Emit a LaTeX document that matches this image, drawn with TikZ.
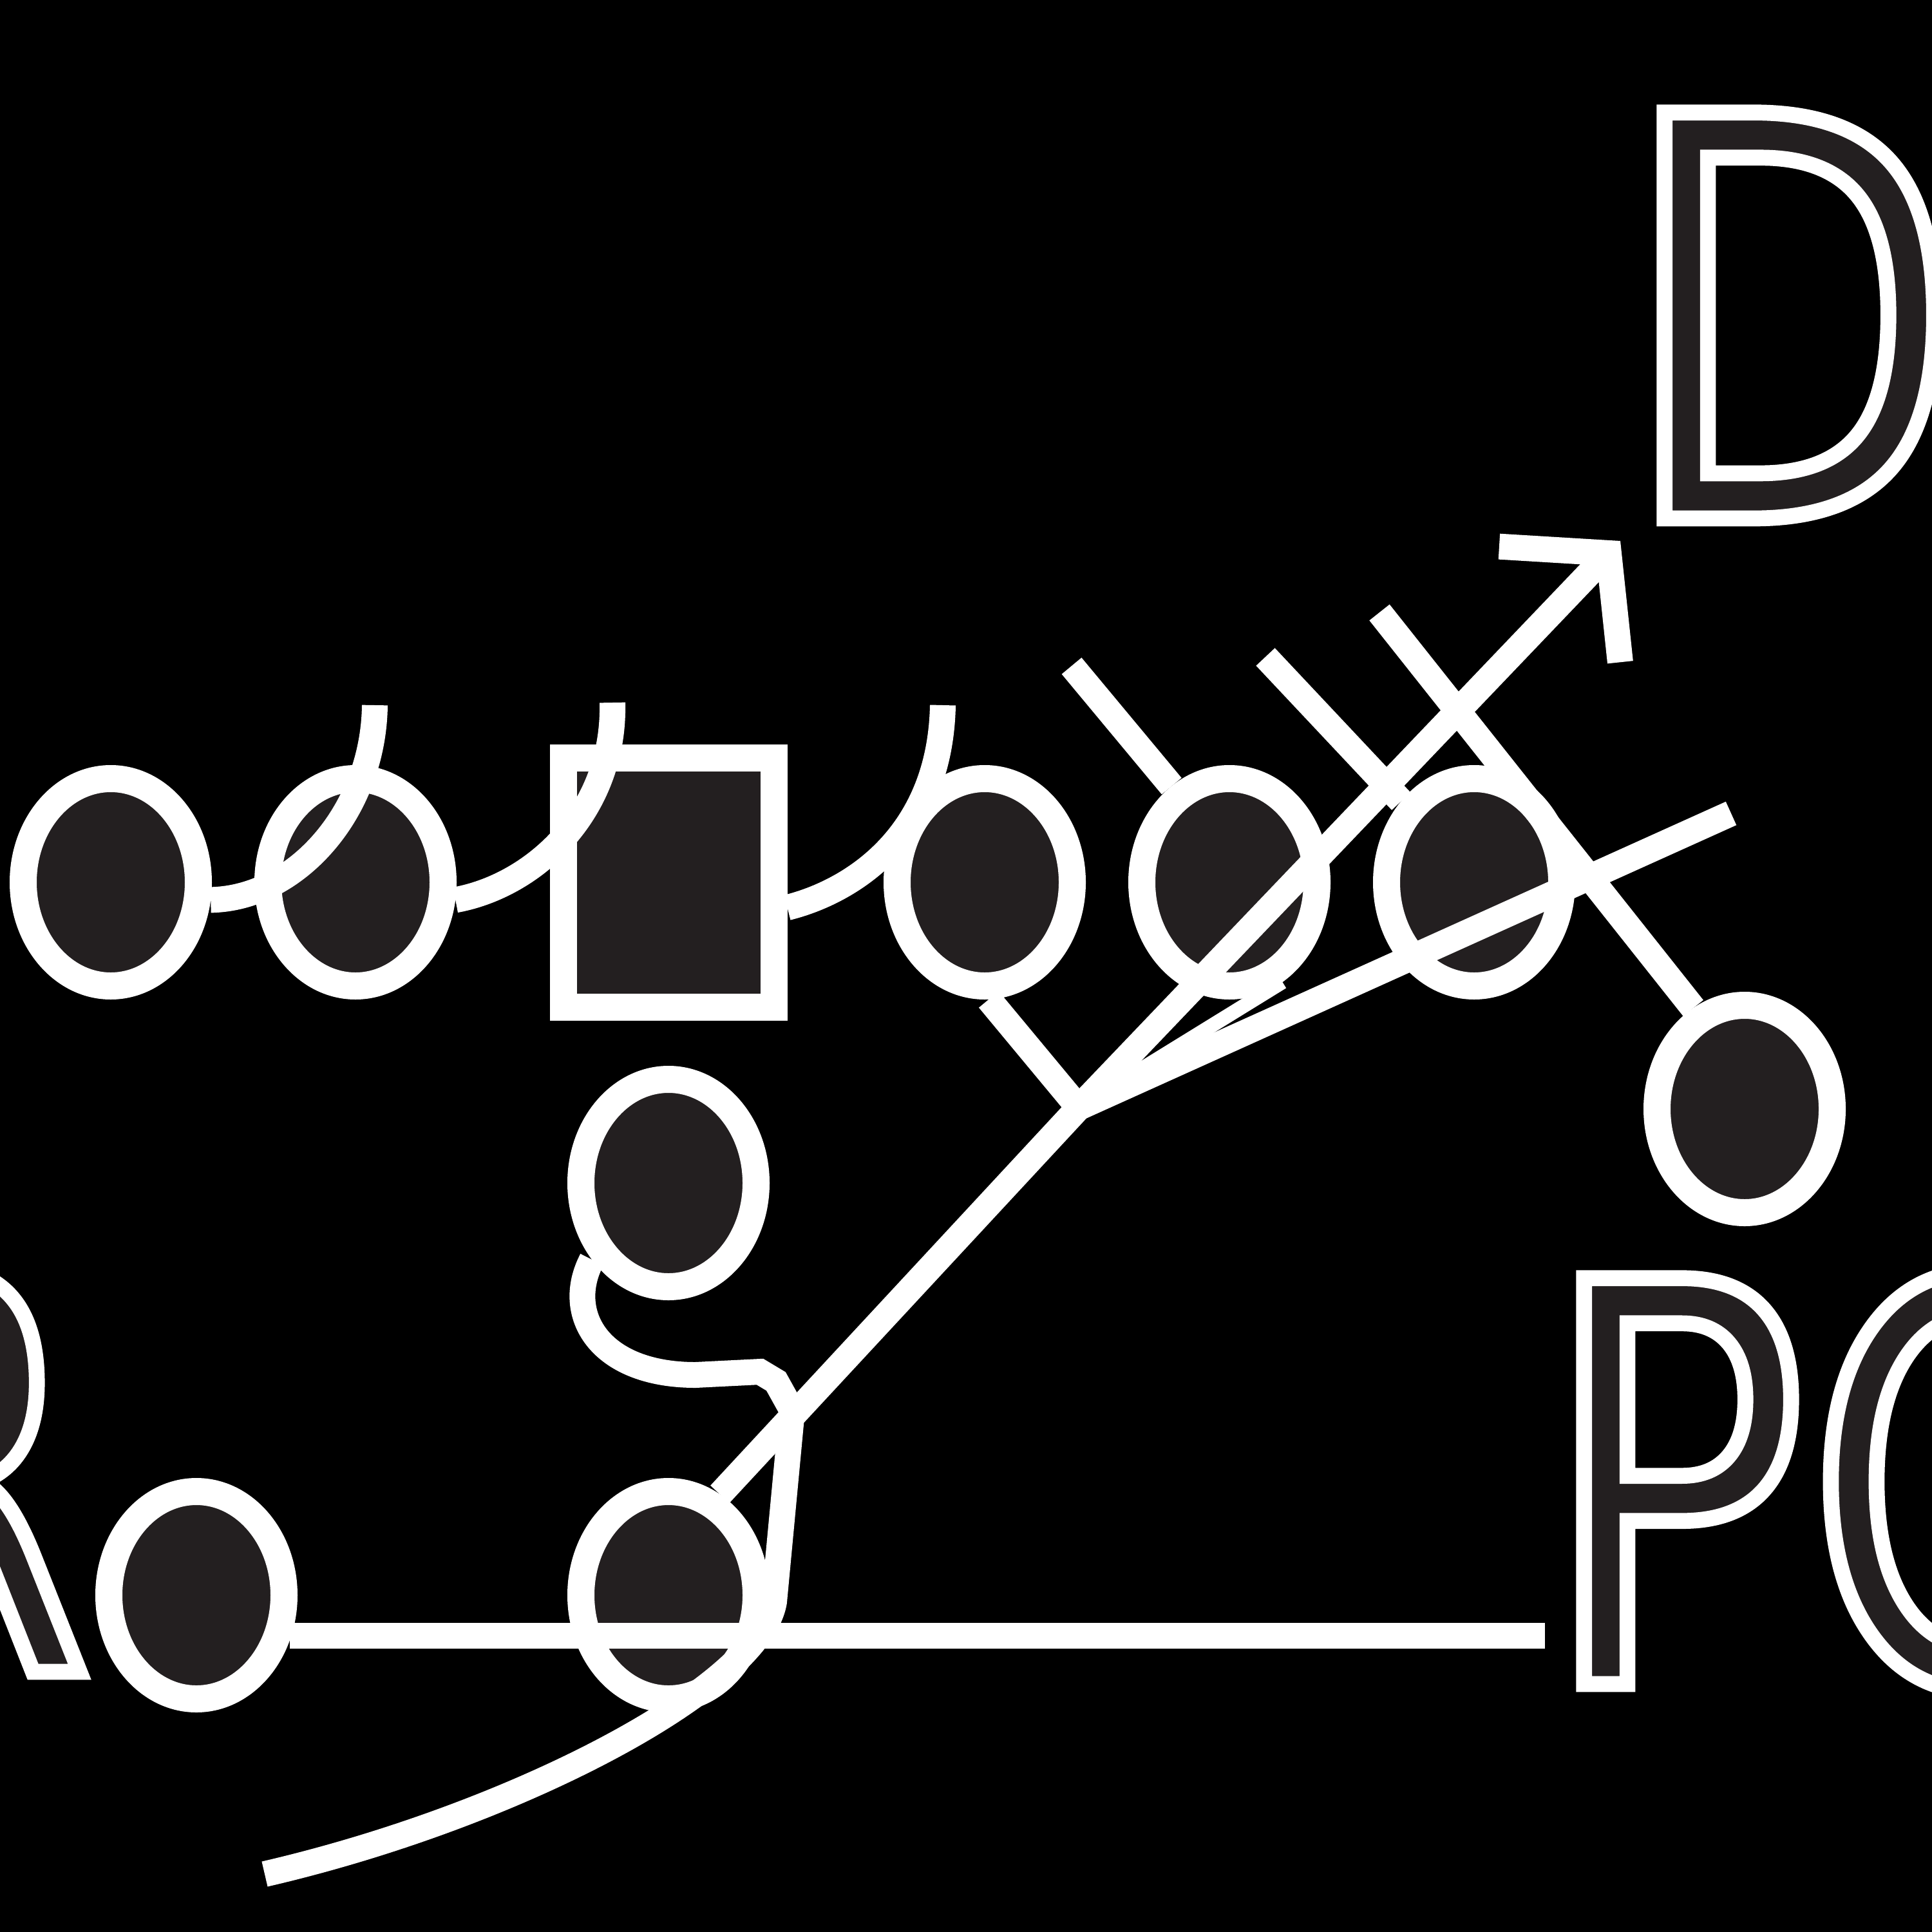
\documentclass[tikz,border=0pt]{standalone}
\usepackage{fontspec}
\usepackage{xcolor}
\usepackage{tikz}
\usetikzlibrary{shapes.geometric, arrows.meta, positioning}
\newfontfamily\playfont[FakeStretch=0.79]{DejaVu Sans}
\definecolor{playerfill}{HTML}{231F20}
% white outlined letters: fill with text colour, stroke in white
\newcommand\hollow[1]{\special{pdf:literal direct 2 Tr 7 w 1 1 1 RG}#1\special{pdf:literal direct 0 Tr}}
\tikzstyle{player} = [ellipse, minimum width=2.72cm, minimum height=3.22cm, inner sep=0pt, draw=white, line width=0.42cm, fill=playerfill]
\tikzstyle{snapper} = [rectangle, minimum width=3.27cm, minimum height=3.87cm, inner sep=0pt, draw=white, line width=0.42cm, fill=playerfill]
\tikzstyle{route} = [draw=white, line width=0.4cm]
\tikzstyle{lettering} = [anchor=base west, inner sep=0pt, text=playerfill, font=\playfont\fontsize{246}{246}\selectfont]

\begin{document}
\begin{tikzpicture}[node distance=3.8cm]
				
				\useasboundingbox (0,0) rectangle (30,-30);
				\clip (0,0) rectangle (30,-30);
				\fill[black] (0,0) rectangle (30,-30);
				
				% Letters
				\node (dword) [lettering] at (25.17,-8.05) {\hollow{D}};
				\node (poword) [lettering] at (23.92,-26.15) {\hollow{PO}};
				\node (rword) [lettering] at (-3.32,-25.96) {\hollow{R}};
				
				% Line
				\node (lt) [player] at (1.72,-13.70) {};
				\node (lg) [player, right of=lt] {};
				\node (ctr) [snapper, right of=lg, xshift=1.06cm] {};
				\node (rg) [player, right of=ctr, xshift=1.11cm] {};
				\node (rt) [player, right of=rg] {};
				\node (te) [player, right of=rt] {};
				\node (wing) [player, right of=te, xshift=0.4cm, yshift=-3.52cm] {};
				
				% Backs
				\node (qb) [player, below of=ctr, yshift=-0.87cm] {};
				\node (hb) [player, below of=qb, yshift=-2.6cm] {};
				\node (wr) [player, left of=hb, xshift=-3.53cm] {};
				
				% Free ends
				\coordinate (split) at (16.75,-17.20);
				\coordinate (merge) at (12.30,-21.90);
				\coordinate (sweep) at (4.11,-29.10);
				\coordinate (flat) at (23.99,-25.40);
				\coordinate (deep) at (25.16,-8.40);
				\coordinate (cross) at (26.88,-12.63);
				\coordinate (ltop) at (5.82,-10.95);
				\coordinate (ctop) at (9.51,-10.91);
				\coordinate (rtop) at (14.64,-10.95);
				\coordinate (rtend) at (16.64,-10.34);
				\coordinate (teend) at (19.65,-10.20);
				\coordinate (wingend) at (21.42,-9.51);
				
				% Blocks
				\draw [route] (lt.-10) .. controls (4.6,-13.95) and (5.8,-12.6) .. (ltop);
				\draw [route] (lg.-10) .. controls (8.3,-13.75) and (9.55,-12.6) .. (ctop);
				\draw [route] (ctr.-12) .. controls (13.2,-13.85) and (14.6,-13.0) .. (rtop);
				\draw [route] (rtend) -- (rt.121);
				\draw [route] (teend) -- (te.132);
				\draw [route] (wingend) -- (wing.117);
				
				% Backfield
				\draw [route] (wr.-26 |- flat) -- (flat);
				\draw [route] (sweep) .. controls (8.0,-28.2) and (11.8,-26.2) .. (12.02,-24.87) -- (merge);
				\draw [route] (qb.-135) .. controls (8.75,-20.4) and (9.3,-21.35) .. (10.8,-21.35) -- (11.8,-21.3) -- (12.05,-21.45) -- (merge);
				\draw [route] (hb.63) -- (split);
				\draw [route] (rg.-88) -- (split);
				\draw [route, -{Straight Barb[length=1.1cm, width=2.6cm]}] (split) -- (deep);
				\draw [route] (split) -- (cross);
				\draw [draw=white, line width=0.22cm] (split) -- (rt.-62);
				
			\end{tikzpicture}
\end{document}
